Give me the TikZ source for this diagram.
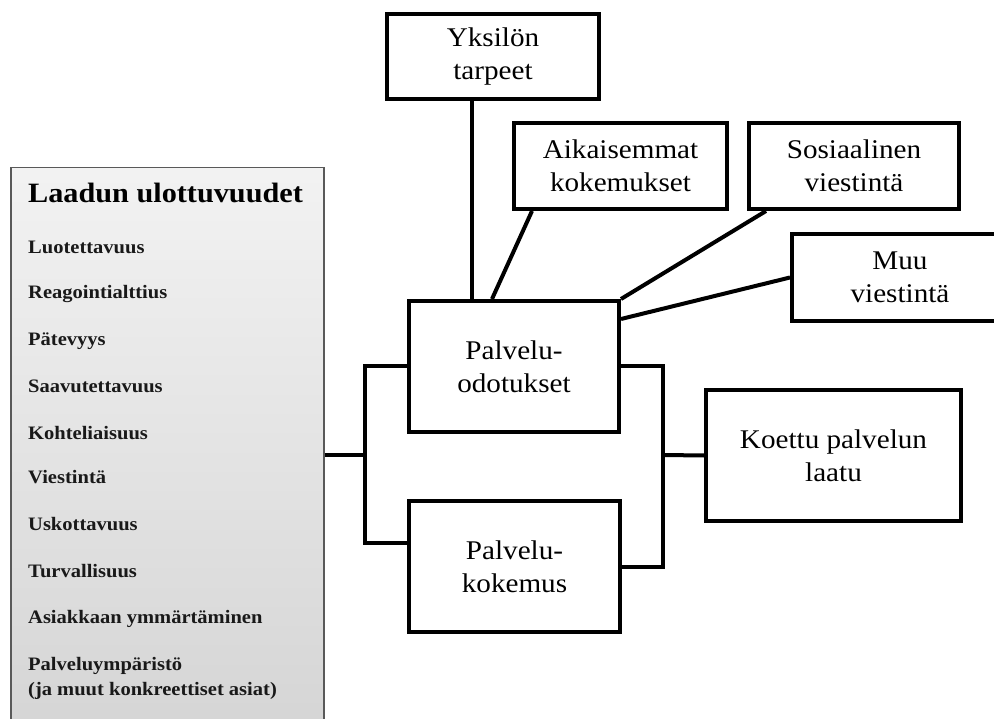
\documentclass[tikz,border=0pt]{standalone}
\usepackage{fontspec}
\setmainfont{Liberation Serif}[FakeStretch=1.08]
\usetikzlibrary{calc}
\begin{document}
\begin{tikzpicture}[x=1pt,y=-1pt,
  box/.style={draw=black, line width=4pt, fill=white, align=center,
    inner sep=0pt, font=\fontsize{27}{33}\selectfont},
  link/.style={draw=black, line width=4pt},
  dimbox/.style={draw=black!65, line width=1.5pt, top color=black!5,
    bottom color=black!17, inner sep=0pt},
  dimtitle/.style={font=\bfseries\fontsize{28}{32}\selectfont, inner sep=0pt, anchor=base west},
  dimitem/.style={font=\bfseries\fontsize{19}{22}\selectfont, inner sep=0pt, anchor=base west, text=black!90}]
\useasboundingbox (0,0) rectangle (994,719);
\clip (0,0) rectangle (994,719);
\fill[white] (0,0) rectangle (994,719);

% quality dimensions panel
\node[dimbox, minimum width=313pt, minimum height=590pt, anchor=north west] (dim) at (10,167) {};
\node[dimtitle] (dt) at (28,203) {Laadun ulottuvuudet};
\node[dimitem] (d1) at (28,254) {Luotettavuus};
\node[dimitem] (d2) at (28,299) {Reagointialttius};
\node[dimitem] (d3) at (28,346) {Pätevyys};
\node[dimitem] (d4) at (28,393) {Saavutettavuus};
\node[dimitem] (d5) at (28,439) {Kohteliaisuus};
\node[dimitem] (d6) at (28,483) {Viestintä};
\node[dimitem] (d7) at (28,530) {Uskottavuus};
\node[dimitem] (d8) at (28,577) {Turvallisuus};
\node[dimitem] (d9) at (28,623) {Asiakkaan ymmärtäminen};
\node[dimitem] (d10) at (28,670) {Palveluympäristö};
\node[dimitem] (d11) at (28,695) {(ja muut konkreettiset asiat)};

% boxes
\node[box, minimum width=212pt, minimum height=85pt] (yks) at (493,56.5) {Yksilön\\tarpeet};
\node[box, minimum width=213pt, minimum height=86pt] (aik) at (620.5,166) {Aikaisemmat\\kokemukset};
\node[box, minimum width=210pt, minimum height=86pt] (sos) at (854,166) {Sosiaalinen\\viestintä};
\node[box, minimum width=216pt, minimum height=87pt] (muu) at (900,277.5) {Muu\\viestintä};
\node[box, minimum width=210pt, minimum height=131pt] (odo) at (514,366.5) {Palvelu-\\odotukset};
\node[box, minimum width=211pt, minimum height=131pt] (kok) at (514.5,566.5) {Palvelu-\\kokemus};
\node[box, minimum width=255pt, minimum height=131pt] (koe) at (833.5,455.5) {Koettu palvelun\\laatu};

% junction points of the brackets
\coordinate (split) at (365,455);
\coordinate (join) at (663,455);

% connectors
\draw[link] ([xshift=-21pt]yks.south) -- ([xshift=-21pt]yks.south |- odo.north);
\draw[link] ([xshift=20pt]aik.south west) -- ([xshift=85pt]odo.north west);
\draw[link] ([xshift=19pt]sos.south west) -- (odo.north east);
\draw[link] (muu.west) -- ([yshift=-20pt]odo.north east);
\draw[link] (dim.east |- split) -- (split);
\draw[link] (odo.west) -| (split) |- ([yshift=23.5pt]kok.west);
\draw[link] (odo.east) -| (join) |- (kok.east);
\draw[link] (join) -- (koe.west);
\end{tikzpicture}
\end{document}
